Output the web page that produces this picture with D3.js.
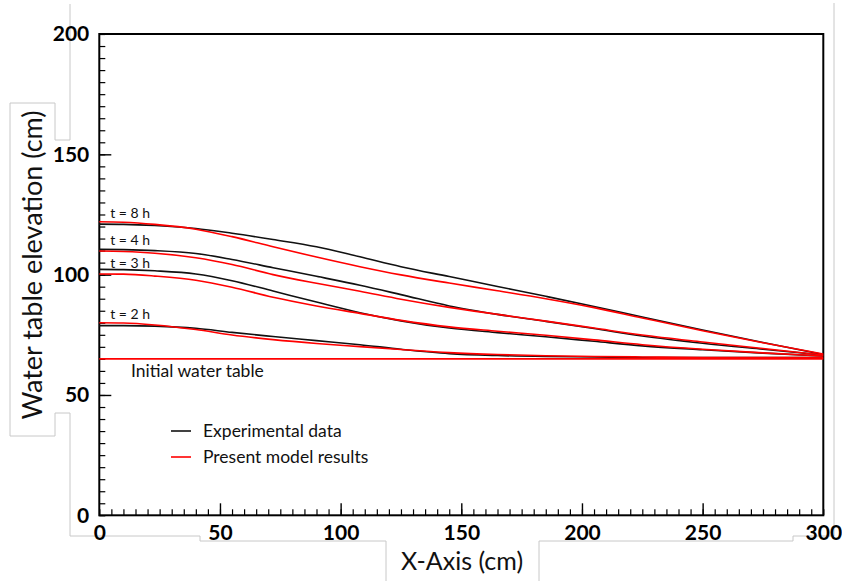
<!DOCTYPE html>
<html><head><meta charset="utf-8">
<script src="https://cdn.jsdelivr.net/npm/d3@7"></script>
<style>
body{margin:0;background:#fff;}
svg{display:block;font-family:Lato,"Open Sans",sans-serif;}
</style></head>
<body>
<svg id="c" width="842" height="581"></svg>
<script>
// ---- data ----
const xs   = [0,10,23,40,55,72,90,108,125,145,165,185,205,225,250,275,300];
const exp8 = [121.0,120.9,120.4,119.2,117.2,114.6,111.6,107.4,103.3,99.2,95.1,91.0,86.8,82.4,77.0,71.8,66.8];
const mod8 = [122.0,121.8,120.9,118.9,115.8,111.6,107.3,103.3,99.9,96.5,93.3,90.0,86.3,82.0,76.7,71.7,67.0];
const exp4 = [110.5,110.4,110.0,108.8,106.3,102.9,99.3,95.6,91.7,87.0,83.5,80.6,77.6,74.5,71.5,69.0,66.6];
const mod4 = [109.8,109.6,108.9,107.0,104.2,100.0,96.4,93.1,89.8,86.4,83.5,80.7,77.8,74.9,72.0,69.3,66.6];
const exp3 = [102.2,102.1,101.6,100.3,97.5,93.2,88.6,84.2,80.8,77.8,75.9,74.2,72.3,70.4,68.8,67.4,66.2];
const mod3 = [100.3,100.2,99.4,97.7,94.8,90.6,87.0,83.9,81.0,78.3,76.5,74.8,72.9,70.9,69.0,67.5,66.2];
const exp2 = [78.8,78.8,78.6,77.7,76.0,74.3,72.6,70.9,69.0,67.2,66.4,66.0,65.8,65.6,65.5,65.5,65.5];
const mod2 = [80.0,79.9,79.1,77.2,74.9,73.0,71.4,70.1,68.9,67.6,66.8,66.3,66.0,65.8,65.6,65.6,65.5];
const xInit  = [0,300];
const initWT = [65,65];

const curveLabels = ["t = 8 h","t = 4 h","t = 3 h","t = 2 h"];
const curveLabelY = [123.5,112.3,102.8,81.6];
const legendNames = ["Experimental data","Present model results"];
const xTicksMajor = [0,50,100,150,200,250,300];
const yTicksMajor = [0,50,100,150,200];

// ---- layout ----
const svg = d3.select("#c");
const L=99.3, R=823.3, T=34, B=515.3;
const x = d3.scaleLinear().domain([0,300]).range([L,R]);
const y = d3.scaleLinear().domain([0,200]).range([B,T]);

// gray artifact outlines
const gray = "#c8c8c8";
const p1 = [[70,4],[70,140],[55,140],[55,103],[10,103],[10,436],[55,436],[55,413],[70,413],[70,536],[200,536],[200,541],[386,541],[386,581]];
const p2 = [[539,581],[539,541],[793,541],[793,536],[834,536],[834,3]];
[p1,p2].forEach(p=>svg.append("path").attr("d",d3.line()(p)).attr("fill","none").attr("stroke",gray).attr("stroke-width",1));

// frame
svg.append("rect").attr("x",L).attr("y",T).attr("width",R-L).attr("height",B-T)
  .attr("fill","none").attr("stroke","#000").attr("stroke-width",2);

// minor ticks
svg.append("g").attr("transform",`translate(0,${B})`)
  .call(d3.axisBottom(x).tickValues(d3.range(0,301,5)).tickSize(-6).tickFormat(""))
  .call(g=>{g.select(".domain").remove(); g.selectAll("line").attr("stroke","#000").attr("stroke-width",1.2);});
svg.append("g").attr("transform",`translate(${L},0)`)
  .call(d3.axisLeft(y).tickValues(d3.range(0,201,5)).tickSize(-6).tickFormat(""))
  .call(g=>{g.select(".domain").remove(); g.selectAll("line").attr("stroke","#000").attr("stroke-width",1.2);});

// major ticks + labels
const gx = svg.append("g").attr("transform",`translate(0,${B})`)
  .call(d3.axisBottom(x).tickValues(xTicksMajor).tickSize(-12).tickPadding(10).tickFormat(d3.format("d")));
gx.select(".domain").remove();
gx.selectAll("line").attr("stroke","#000").attr("stroke-width",1.4);
gx.selectAll("text").attr("font-family","Lato,sans-serif").attr("font-weight","bold").attr("font-size",21).attr("fill","#000");
const gy = svg.append("g").attr("transform",`translate(${L},0)`)
  .call(d3.axisLeft(y).tickValues(yTicksMajor).tickSize(-12).tickPadding(10).tickFormat(d3.format("d")));
gy.select(".domain").remove();
gy.selectAll("line").attr("stroke","#000").attr("stroke-width",1.4);
gy.selectAll("text").attr("font-family","Lato,sans-serif").attr("font-weight","bold").attr("font-size",21).attr("fill","#000");
gx.selectAll(".tick").filter(d=>d===0||d===300).select("line").remove();
gy.selectAll(".tick").filter(d=>d===0||d===200).select("line").remove();

// lines
const line = d3.line().x((d,i)=>x(xs[i])).y(d=>y(d)).curve(d3.curveMonotoneX);
const lineInit = d3.line().x((d,i)=>x(xInit[i])).y(d=>y(d));
[[exp8,"#111"],[exp4,"#111"],[exp3,"#111"],[exp2,"#111"],
 [mod8,"#ff0000"],[mod4,"#ff0000"],[mod3,"#ff0000"],[mod2,"#ff0000"]].forEach(([ys,c])=>{
  svg.append("path").datum(ys).attr("d",line).attr("fill","none").attr("stroke",c).attr("stroke-width",1.6);
});
svg.append("path").datum(initWT).attr("d",lineInit).attr("fill","none").attr("stroke","#ff0000").attr("stroke-width",1.6);

// curve labels
curveLabels.forEach((t,i)=>{
  svg.append("text").attr("x",x(4.5)).attr("y",y(curveLabelY[i])).text(t)
    .attr("font-size",14).attr("fill","#111");
});
svg.append("text").attr("x",131).attr("y",377).text("Initial water table").attr("font-size",17.5).attr("fill","#111");

// legend
const legColors = ["#111","#ff0000"];
legendNames.forEach((n,i)=>{
  const yy = 431 + i*26;
  svg.append("line").attr("x1",171).attr("x2",191).attr("y1",yy).attr("y2",yy).attr("stroke",legColors[i]).attr("stroke-width",1.6);
  svg.append("text").attr("x",203).attr("y",yy+6).text(n).attr("font-size",17.5).attr("fill","#111");
});

// axis titles
svg.append("text").attr("x",462).attr("y",570).attr("text-anchor","middle").text("X-Axis (cm)")
  .attr("font-size",25).attr("fill","#111");
svg.append("text").attr("transform","translate(42,265) rotate(-90)").attr("text-anchor","middle")
  .text("Water table elevation (cm)").attr("font-size",27).attr("fill","#111");
</script>
</body></html>
